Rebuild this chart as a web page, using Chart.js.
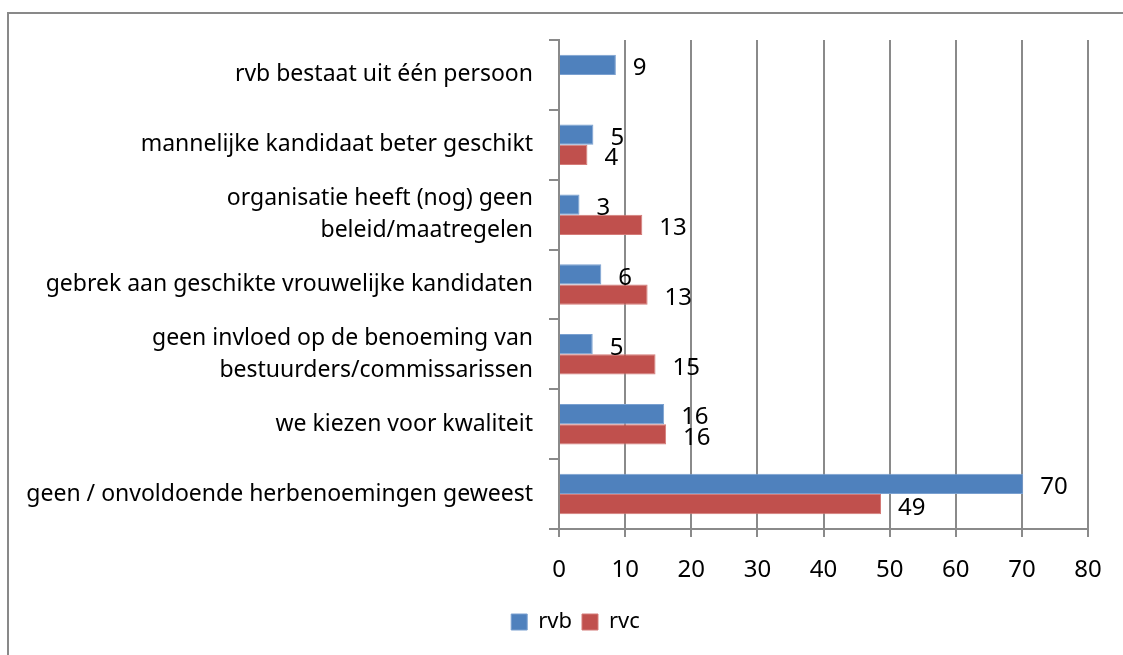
<!DOCTYPE html>
<html>
<head>
<meta charset="utf-8">
<script src="https://cdn.jsdelivr.net/npm/chart.js@4"></script>
<style>
  html, body { margin: 0; padding: 0; background: #fff; overflow: hidden; }
  #frame {
    position: absolute; left: 7px; top: 12px;
    width: 1140px; height: 700px;
    border: 2px solid #898989;
  }
  #chart { display: block; }
</style>
</head>
<body>
<div id="frame"><canvas id="chart" width="1130" height="641"></canvas></div>
<script>
const categories = [
    'rvb bestaat uit één persoon',
    'mannelijke kandidaat beter geschikt',
    ['organisatie heeft (nog) geen', 'beleid/maatregelen'],
    'gebrek aan geschikte vrouwelijke kandidaten',
    ['geen invloed op de benoeming van', 'bestuurders/commissarissen'],
    'we kiezen voor kwaliteit',
    'geen / onvoldoende herbenoemingen geweest'
];
const rvbValues = [8.6, 5.2, 3.1, 6.4, 5.1, 15.9, 70.2];
const rvcValues = [null, 4.3, 12.6, 13.4, 14.6, 16.2, 48.7];
const xTicks = [0, 10, 20, 30, 40, 50, 60, 70, 80];

const gridGray = '#8a8a8a';
const fontFamily = '"Noto Sans", "Open Sans", sans-serif';

// value labels right of each bar, like Excel's "outside end"
const valueLabels = {
    id: 'valueLabels',
    afterDatasetsDraw(chart) {
        const ctx = chart.ctx;
        ctx.save();
        ctx.font = '24px ' + fontFamily;
        ctx.fillStyle = '#000';
        ctx.textAlign = 'left';
        ctx.textBaseline = 'middle';
        chart.data.datasets.forEach((ds, i) => {
            chart.getDatasetMeta(i).data.forEach((bar, j) => {
                const v = ds.data[j];
                if (v === null || v === undefined) return;
                ctx.fillText(String(Math.round(v)), bar.x + 17, bar.y + 3.5);
            });
        });
        ctx.restore();
    }
};

// the legend in the original is centred on the whole frame, not on the plot
const legendShift = {
    id: 'legendShift',
    afterLayout(chart) {
        chart.legend.left += 27;
        chart.legend.right += 27;
    }
};

const ctx = document.getElementById('chart').getContext('2d');
new Chart(ctx, {
    type: 'bar',
    data: {
        labels: categories,
        datasets: [
            {
                label: 'rvb',
                data: rvbValues,
                backgroundColor: '#4f81bd',
                borderColor: '#7aa0d0',
                borderWidth: 1,
                categoryPercentage: 0.58,
                barPercentage: 1.0
            },
            {
                label: 'rvc',
                data: rvcValues,
                backgroundColor: '#c0504d',
                borderColor: '#d47b78',
                borderWidth: 1,
                categoryPercentage: 0.58,
                barPercentage: 1.0
            }
        ]
    },
    options: {
        indexAxis: 'y',
        responsive: false,
        animation: false,
        layout: { padding: { top: 26, right: 51, bottom: 12, left: 0 } },
        scales: {
            x: {
                min: 0,
                max: 80,
                afterBuildTicks: (scale) => { scale.ticks = xTicks.map(v => ({ value: v })); },
                afterFit: (scale) => { scale.height = 72; },
                grid: {
                    color: gridGray,
                    lineWidth: 2,
                    drawTicks: true,
                    tickLength: 8
                },
                border: { color: gridGray, width: 2 },
                ticks: {
                    color: '#000',
                    padding: 19,
                    font: { family: fontFamily, size: 24 }
                }
            },
            y: {
                afterFit: (scale) => {
                    scale.width = 550;
                    scale.paddingTop = 0;
                    scale.paddingBottom = 0;
                },
                grid: {
                    drawOnChartArea: false,
                    drawTicks: true,
                    tickLength: 10,
                    color: gridGray,
                    lineWidth: 2
                },
                border: { color: gridGray, width: 2 },
                ticks: {
                    color: '#000',
                    padding: 16,
                    autoSkip: false,
                    font: { family: fontFamily, size: 23, lineHeight: 1.4 }
                }
            }
        },
        plugins: {
            legend: {
                position: 'bottom',
                labels: {
                    boxWidth: 16,
                    boxHeight: 16,
                    padding: 10,
                    color: '#000',
                    font: { family: fontFamily, size: 22 }
                }
            },
            tooltip: { enabled: false }
        }
    },
    plugins: [valueLabels, legendShift]
});
</script>
</body>
</html>
